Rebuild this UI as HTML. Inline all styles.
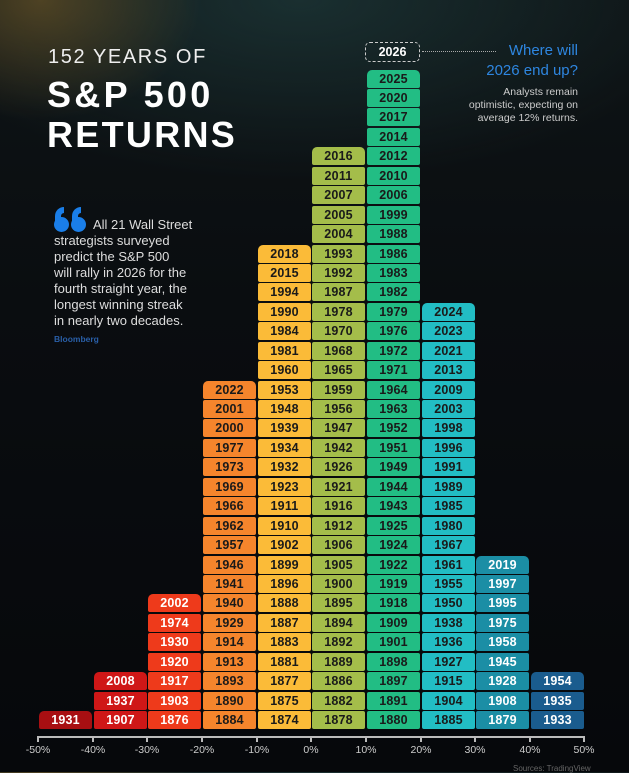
<!DOCTYPE html>
<html><head><meta charset="utf-8"><style>
*{margin:0;padding:0;box-sizing:border-box}
body{width:629px;height:772px;overflow:hidden;position:relative;font-family:"Liberation Sans",sans-serif;
background:radial-gradient(ellipse 160px 120px at 40px 0px,rgba(150,110,40,0.45),transparent),
radial-gradient(ellipse 400px 180px at 300px 0px,rgba(40,80,80,0.45),transparent),
linear-gradient(#0e1416 0px,#0a0d10 300px,#06080b 772px);}
.t{position:absolute;color:#fff;white-space:nowrap}
.col{position:absolute;bottom:43px;width:53px;display:flex;flex-direction:column-reverse}
.col div{height:18px;margin-top:1.44px;border-radius:2px;font-weight:bold;font-size:12.5px;line-height:18px;text-align:center;letter-spacing:0.2px}
.col div:last-child{border-radius:5px 5px 2px 2px}
.w div{color:#fff}.d div{color:#1a1a1a}
.ax{position:absolute;top:744px;font-size:10.5px;color:#ccc;width:40px;text-align:center}
.tk{position:absolute;top:737px;width:2px;height:5px;background:#bbb}
.q{position:absolute;width:15px;height:15px;border-radius:50%;background:#1a7ee8}
.qt{position:absolute;width:9px;height:14px;border-left:6px solid #1a7ee8;border-top:6px solid #1a7ee8;border-radius:12px 0 0 0}
</style></head><body>
<div class="t" style="left:48px;top:46px;font-size:20px;letter-spacing:1.6px;color:#eee">152 YEARS OF</div>
<div class="t" style="left:47px;top:74px;font-size:36px;font-weight:bold;letter-spacing:3.3px">S&amp;P 500</div>
<div class="t" style="left:47px;top:114px;font-size:36px;font-weight:bold;letter-spacing:2.3px">RETURNS</div>
<div class="q" style="left:54px;top:217px"></div><div class="qt" style="left:55px;top:207px"></div>
<div class="q" style="left:71px;top:217px"></div><div class="qt" style="left:72px;top:207px"></div>
<div class="t" style="left:54px;top:217px;font-size:13px;line-height:16px;color:#ddd">
<div style="padding-left:39px">All 21 Wall Street</div>
<div>strategists surveyed</div><div>predict the S&amp;P 500</div><div>will rally in 2026 for the</div><div>fourth straight year, the</div><div>longest winning streak</div><div>in nearly two decades.</div></div>
<div class="t" style="left:54px;top:334px;font-size:8.5px;color:#2a5fa8;font-weight:bold">Bloomberg</div>
<div class="t" style="right:51px;top:41px;font-size:15px;line-height:20px;color:#2e86e0;text-align:right">Where will<br>2026 end up?</div>
<div class="t" style="right:51px;top:86px;font-size:10.5px;line-height:13px;color:#ccc;text-align:right">Analysts remain<br>optimistic, expecting on<br>average 12% returns.</div>
<div style="position:absolute;left:365px;top:42px;width:55px;height:20px;border:1px dashed #ccc;border-radius:5px;color:#fff;font-weight:bold;font-size:12.5px;text-align:center;line-height:18px">2026</div>
<div style="position:absolute;left:422px;top:51px;width:74px;border-top:1px dotted #aaa"></div>

<div class="col w" style="left:39px"><div style="background:#a80f12">1931</div></div>
<div class="col w" style="left:94px"><div style="background:#cf1717">1907</div><div style="background:#cf1717">1937</div><div style="background:#cf1717">2008</div></div>
<div class="col w" style="left:148px"><div style="background:#ee3a1b">1876</div><div style="background:#ee3a1b">1903</div><div style="background:#ee3a1b">1917</div><div style="background:#ee3a1b">1920</div><div style="background:#ee3a1b">1930</div><div style="background:#ee3a1b">1974</div><div style="background:#ee3a1b">2002</div></div>
<div class="col d" style="left:203px"><div style="background:#f5852c">1884</div><div style="background:#f5852c">1890</div><div style="background:#f5852c">1893</div><div style="background:#f5852c">1913</div><div style="background:#f5852c">1914</div><div style="background:#f5852c">1929</div><div style="background:#f5852c">1940</div><div style="background:#f5852c">1941</div><div style="background:#f5852c">1946</div><div style="background:#f5852c">1957</div><div style="background:#f5852c">1962</div><div style="background:#f5852c">1966</div><div style="background:#f5852c">1969</div><div style="background:#f5852c">1973</div><div style="background:#f5852c">1977</div><div style="background:#f5852c">2000</div><div style="background:#f5852c">2001</div><div style="background:#f5852c">2022</div></div>
<div class="col d" style="left:258px"><div style="background:#fbbb38">1874</div><div style="background:#fbbb38">1875</div><div style="background:#fbbb38">1877</div><div style="background:#fbbb38">1881</div><div style="background:#fbbb38">1883</div><div style="background:#fbbb38">1887</div><div style="background:#fbbb38">1888</div><div style="background:#fbbb38">1896</div><div style="background:#fbbb38">1899</div><div style="background:#fbbb38">1902</div><div style="background:#fbbb38">1910</div><div style="background:#fbbb38">1911</div><div style="background:#fbbb38">1923</div><div style="background:#fbbb38">1932</div><div style="background:#fbbb38">1934</div><div style="background:#fbbb38">1939</div><div style="background:#fbbb38">1948</div><div style="background:#fbbb38">1953</div><div style="background:#fbbb38">1960</div><div style="background:#fbbb38">1981</div><div style="background:#fbbb38">1984</div><div style="background:#fbbb38">1990</div><div style="background:#fbbb38">1994</div><div style="background:#fbbb38">2015</div><div style="background:#fbbb38">2018</div></div>
<div class="col d" style="left:312px"><div style="background:#a4bd4a">1878</div><div style="background:#a4bd4a">1882</div><div style="background:#a4bd4a">1886</div><div style="background:#a4bd4a">1889</div><div style="background:#a4bd4a">1892</div><div style="background:#a4bd4a">1894</div><div style="background:#a4bd4a">1895</div><div style="background:#a4bd4a">1900</div><div style="background:#a4bd4a">1905</div><div style="background:#a4bd4a">1906</div><div style="background:#a4bd4a">1912</div><div style="background:#a4bd4a">1916</div><div style="background:#a4bd4a">1921</div><div style="background:#a4bd4a">1926</div><div style="background:#a4bd4a">1942</div><div style="background:#a4bd4a">1947</div><div style="background:#a4bd4a">1956</div><div style="background:#a4bd4a">1959</div><div style="background:#a4bd4a">1965</div><div style="background:#a4bd4a">1968</div><div style="background:#a4bd4a">1970</div><div style="background:#a4bd4a">1978</div><div style="background:#a4bd4a">1987</div><div style="background:#a4bd4a">1992</div><div style="background:#a4bd4a">1993</div><div style="background:#a4bd4a">2004</div><div style="background:#a4bd4a">2005</div><div style="background:#a4bd4a">2007</div><div style="background:#a4bd4a">2011</div><div style="background:#a4bd4a">2016</div></div>
<div class="col d" style="left:367px"><div style="background:#22bd84">1880</div><div style="background:#22bd84">1891</div><div style="background:#22bd84">1897</div><div style="background:#22bd84">1898</div><div style="background:#22bd84">1901</div><div style="background:#22bd84">1909</div><div style="background:#22bd84">1918</div><div style="background:#22bd84">1919</div><div style="background:#22bd84">1922</div><div style="background:#22bd84">1924</div><div style="background:#22bd84">1925</div><div style="background:#22bd84">1943</div><div style="background:#22bd84">1944</div><div style="background:#22bd84">1949</div><div style="background:#22bd84">1951</div><div style="background:#22bd84">1952</div><div style="background:#22bd84">1963</div><div style="background:#22bd84">1964</div><div style="background:#22bd84">1971</div><div style="background:#22bd84">1972</div><div style="background:#22bd84">1976</div><div style="background:#22bd84">1979</div><div style="background:#22bd84">1982</div><div style="background:#22bd84">1983</div><div style="background:#22bd84">1986</div><div style="background:#22bd84">1988</div><div style="background:#22bd84">1999</div><div style="background:#22bd84">2006</div><div style="background:#22bd84">2010</div><div style="background:#22bd84">2012</div><div style="background:#22bd84">2014</div><div style="background:#22bd84">2017</div><div style="background:#22bd84">2020</div><div style="background:#22bd84">2025</div></div>
<div class="col d" style="left:422px"><div style="background:#22bdc4">1885</div><div style="background:#22bdc4">1904</div><div style="background:#22bdc4">1915</div><div style="background:#22bdc4">1927</div><div style="background:#22bdc4">1936</div><div style="background:#22bdc4">1938</div><div style="background:#22bdc4">1950</div><div style="background:#22bdc4">1955</div><div style="background:#22bdc4">1961</div><div style="background:#22bdc4">1967</div><div style="background:#22bdc4">1980</div><div style="background:#22bdc4">1985</div><div style="background:#22bdc4">1989</div><div style="background:#22bdc4">1991</div><div style="background:#22bdc4">1996</div><div style="background:#22bdc4">1998</div><div style="background:#22bdc4">2003</div><div style="background:#22bdc4">2009</div><div style="background:#22bdc4">2013</div><div style="background:#22bdc4">2021</div><div style="background:#22bdc4">2023</div><div style="background:#22bdc4">2024</div></div>
<div class="col w" style="left:476px"><div style="background:#1b8ea5">1879</div><div style="background:#1b8ea5">1908</div><div style="background:#1b8ea5">1928</div><div style="background:#1b8ea5">1945</div><div style="background:#1b8ea5">1958</div><div style="background:#1b8ea5">1975</div><div style="background:#1b8ea5">1995</div><div style="background:#1b8ea5">1997</div><div style="background:#1b8ea5">2019</div></div>
<div class="col w" style="left:531px"><div style="background:#1a5c8e">1933</div><div style="background:#1a5c8e">1935</div><div style="background:#1a5c8e">1954</div></div>

<div style="position:absolute;left:37px;top:736px;width:548px;height:2px;background:#bbb"></div>
<div class="tk" style="left:37px"></div><div class="tk" style="left:92px"></div><div class="tk" style="left:146px"></div><div class="tk" style="left:201px"></div><div class="tk" style="left:256px"></div><div class="tk" style="left:310px"></div><div class="tk" style="left:365px"></div><div class="tk" style="left:420px"></div><div class="tk" style="left:474px"></div><div class="tk" style="left:529px"></div><div class="tk" style="left:583px"></div>
<div class="ax" style="left:18px">-50%</div><div class="ax" style="left:73px">-40%</div><div class="ax" style="left:127px">-30%</div><div class="ax" style="left:182px">-20%</div><div class="ax" style="left:237px">-10%</div><div class="ax" style="left:291px">0%</div><div class="ax" style="left:346px">10%</div><div class="ax" style="left:401px">20%</div><div class="ax" style="left:455px">30%</div><div class="ax" style="left:510px">40%</div><div class="ax" style="left:564px">50%</div>
<div class="t" style="left:513px;top:764px;font-size:8px;color:#666">Sources: TradingView</div>
</body></html>
